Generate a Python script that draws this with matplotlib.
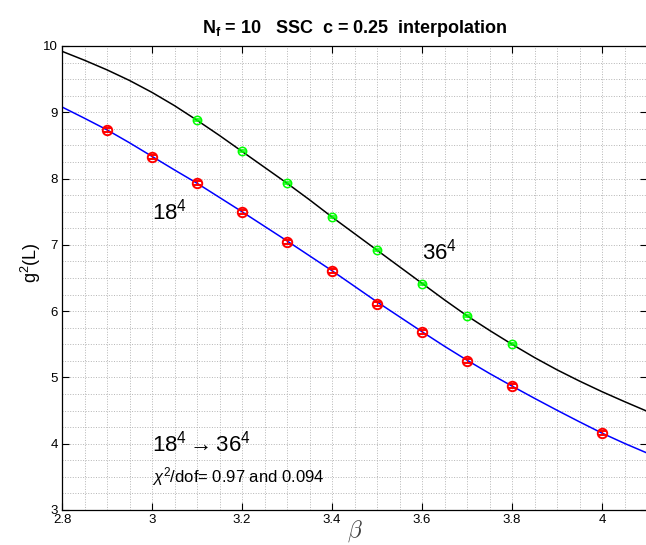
import matplotlib

matplotlib.use("Agg")
import matplotlib.pyplot as plt
from matplotlib.ticker import MultipleLocator

plt.rcParams["font.family"] = ["Liberation Sans", "DejaVu Sans"]
plt.rcParams["mathtext.fontset"] = "custom"
plt.rcParams["mathtext.rm"] = "Liberation Sans"
plt.rcParams["mathtext.it"] = "Liberation Sans:italic"
plt.rcParams["mathtext.bf"] = "Liberation Sans:bold"

# measured points
beta_18 = [2.9, 3.0, 3.1, 3.2, 3.3, 3.4, 3.5, 3.6, 3.7, 3.8, 4.0]
g2_18 = [8.74, 8.33, 7.93, 7.49, 7.05, 6.60, 6.11, 5.68, 5.255, 4.87, 4.155]
err_18 = [0.03, 0.03, 0.03, 0.03, 0.03, 0.03, 0.03, 0.03, 0.03, 0.03, 0.03]

beta_36 = [3.1, 3.2, 3.3, 3.4, 3.5, 3.6, 3.7, 3.8]
g2_36 = [8.88, 8.41, 7.94, 7.415, 6.92, 6.415, 5.92, 5.50]
err_36 = [0.015, 0.015, 0.015, 0.015, 0.015, 0.015, 0.015, 0.015]

# interpolating curves, every 0.05
beta_curve = [2.8, 2.85, 2.9, 2.95, 3.0, 3.05, 3.1, 3.15, 3.2, 3.25, 3.3, 3.35, 3.4, 3.45,
              3.5, 3.55, 3.6, 3.65, 3.7, 3.75, 3.8, 3.85, 3.9, 3.95, 4.0, 4.05, 4.1]
curve_18 = [9.08, 8.91, 8.735, 8.54, 8.335, 8.13, 7.93, 7.715, 7.50, 7.28, 7.06, 6.835, 6.61,
            6.375, 6.14, 5.915, 5.69, 5.47, 5.26, 5.06, 4.87, 4.685, 4.505, 4.33, 4.16,
            4.005, 3.86]
curve_36 = [9.92, 9.785, 9.64, 9.48, 9.30, 9.10, 8.88, 8.65, 8.41, 8.17, 7.93, 7.68, 7.42,
            7.17, 6.92, 6.67, 6.42, 6.17, 5.93, 5.71, 5.50, 5.30, 5.115, 4.945, 4.785,
            4.635, 4.49]

fig = plt.figure(figsize=(6.46, 5.45), dpi=100)
ax = fig.add_axes([62 / 646, 35 / 545, 585 / 646, 464 / 545])

ax.plot(beta_curve, curve_36, color="black", linewidth=1.1, zorder=2)
ax.plot(beta_curve, curve_18, color="#0000ff", linewidth=1.1, zorder=2)

ax.errorbar(beta_36, g2_36, yerr=err_36, fmt="o", color="#00ff00", mfc="none",
            mec="#00ff00", ms=6, mew=1.1, capsize=3, elinewidth=1.0, zorder=3)
ax.errorbar(beta_18, g2_18, yerr=err_18, fmt="o", color="#ff0000", mfc="none",
            mec="#ff0000", ms=6.8, mew=1.4, capsize=3, elinewidth=1.0, zorder=3)

ax.text(3.0, 7.5, r"$18^4$", fontsize=16, va="center", ha="left")
ax.text(3.6, 6.9, r"$36^4$", fontsize=16, va="center", ha="left")
ax.text(3.0, 4.0, r"$18^4 \rightarrow 36^4$", fontsize=16, va="center", ha="left")
ax.text(3.0, 3.5, r"$\chi^2$/dof= 0.97 and 0.094", fontsize=12, va="center", ha="left")

ax.set_xlim(2.8, 4.1)
ax.set_ylim(3, 10)
ax.xaxis.set_major_locator(MultipleLocator(0.2))
ax.xaxis.set_minor_locator(MultipleLocator(0.05))
ax.yaxis.set_major_locator(MultipleLocator(1))
ax.yaxis.set_minor_locator(MultipleLocator(0.25))
ax.xaxis.set_major_formatter(plt.FuncFormatter(lambda v, p: f"{v:g}"))

ax.grid(which="both", linestyle=":", color="#b5b5b5", linewidth=0.7)
ax.tick_params(which="major", direction="in", top=True, right=True, length=5,
               width=0.8, labelsize=9.5, pad=3)
ax.tick_params(which="minor", length=0)
for spine in ax.spines.values():
    spine.set_linewidth(0.9)

ax.set_xlabel(r"$\beta$", fontsize=17, math_fontfamily="cm", color="#404040")
ax.xaxis.set_label_coords(0.5, -0.018)
ax.set_ylabel(r"g$^2$(L)", fontsize=13)
ax.yaxis.set_label_coords(-0.033, 0.532)
ax.set_title(r"$\mathbf{N_f}$ = 10   SSC  c = 0.25  interpolation",
             fontsize=13, fontweight="bold", pad=9)

fig.savefig("out.png", dpi=100)
